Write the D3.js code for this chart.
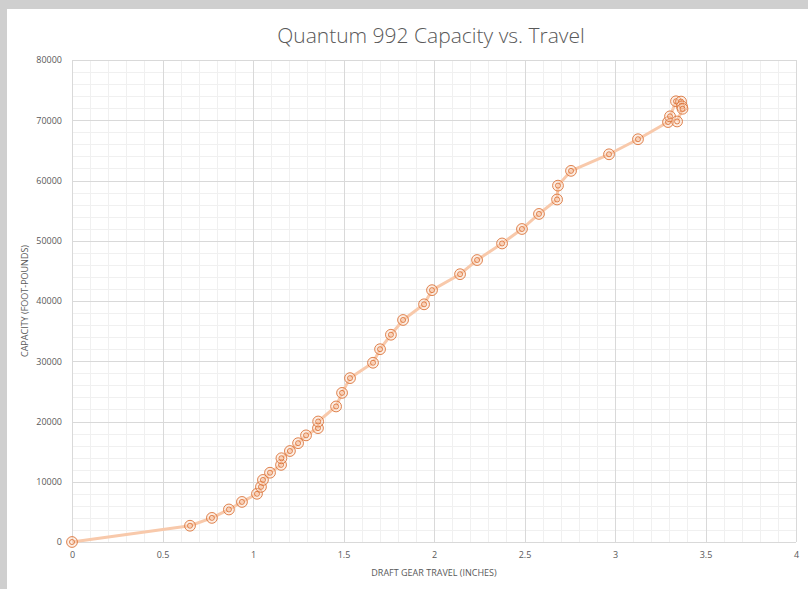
<!DOCTYPE html>
<html>
<head>
<meta charset="utf-8">
<script src="https://cdn.jsdelivr.net/npm/d3@7"></script>
<style>
  body { margin: 0; background: #cfcfcf; }
  #chart { position: absolute; left: 7px; top: 9px; }
  text { font-family: "Open Sans", "Liberation Sans", sans-serif; fill: #595959; }
</style>
</head>
<body>
<div id="chart"></div>
<script>
// data
var travel = [0, 0.652, 0.773, 0.867, 0.939, 1.022, 1.044, 1.055, 1.094, 1.155, 1.157, 1.204, 1.249,
  1.293, 1.359, 1.36, 1.459, 1.492, 1.536, 1.663, 1.702, 1.762, 1.829, 1.945, 1.989, 2.144, 2.238,
  2.376, 2.486, 2.58, 2.68, 2.685, 2.757, 2.967, 3.127, 3.293, 3.304, 3.337, 3.365, 3.37, 3.373, 3.343];
var capacity = [0, 2700, 4000, 5400, 6650, 8000, 9150, 10300, 11500, 12800, 13900, 15100, 16400,
  17700, 18900, 20000, 22500, 24750, 27200, 29750, 32000, 34400, 36850, 39450, 41800, 44450, 46800,
  49550, 51950, 54450, 56850, 59150, 61600, 64350, 66850, 69700, 70650, 73150, 73100, 72300, 71900, 69800];
var xTicks = [0, 0.5, 1, 1.5, 2, 2.5, 3, 3.5, 4];
var yTicks = [0, 10000, 20000, 30000, 40000, 50000, 60000, 70000, 80000];

var data = travel.map(function(t, i) { return {x: t, y: capacity[i]}; });

var W = 801, H = 580;
var margin = {top: 51, right: 5, bottom: 47, left: 65},
    width = 796 - 72,
    height = 542 - 60;

var root = d3.select("#chart").append("svg")
    .attr("width", W).attr("height", H)
    .style("background", "#fff");

var svg = root.append("g")
    .attr("transform", "translate(" + margin.left + "," + margin.top + ")");

var x = d3.scaleLinear().domain([0, 4]).range([0, width]);
var y = d3.scaleLinear().domain([0, 80000]).range([height, 0]);

// minor grid
svg.append("g").selectAll("line").data(d3.range(0, 4.0001, 0.1))
  .enter().append("line")
    .attr("x1", function(d) { return Math.round(x(d)) + 0.5; })
    .attr("x2", function(d) { return Math.round(x(d)) + 0.5; })
    .attr("y1", 0).attr("y2", height)
    .attr("stroke", "#f0f0f0");
svg.append("g").selectAll("line").data(d3.range(0, 80001, 2000))
  .enter().append("line")
    .attr("y1", function(d) { return Math.round(y(d)) + 0.5; })
    .attr("y2", function(d) { return Math.round(y(d)) + 0.5; })
    .attr("x1", 0).attr("x2", width)
    .attr("stroke", "#f0f0f0");

// major grid
svg.append("g").selectAll("line").data(xTicks)
  .enter().append("line")
    .attr("x1", function(d) { return Math.round(x(d)) + 0.5; })
    .attr("x2", function(d) { return Math.round(x(d)) + 0.5; })
    .attr("y1", 0).attr("y2", height)
    .attr("stroke", "#d9d9d9");
svg.append("g").selectAll("line").data(yTicks)
  .enter().append("line")
    .attr("y1", function(d) { return Math.round(y(d)) + 0.5; })
    .attr("y2", function(d) { return Math.round(y(d)) + 0.5; })
    .attr("x1", 0).attr("x2", width)
    .attr("stroke", "#d9d9d9");

// axes labels via d3 axes, domain hidden
var xAxis = svg.append("g")
    .attr("transform", "translate(0," + height + ")")
    .call(d3.axisBottom(x).tickValues(xTicks).tickSize(0).tickPadding(10).tickFormat(d3.format("")));
var yAxis = svg.append("g")
    .call(d3.axisLeft(y).tickValues(yTicks).tickSize(0).tickPadding(10).tickFormat(d3.format("d")));
[xAxis, yAxis].forEach(function(a) {
  a.select(".domain").remove();
  a.selectAll("text").style("font-size", "9px").attr("fill", "#595959")
    .style("font-family", "'Open Sans', sans-serif");
});

// line
svg.append("path")
    .datum(data)
    .attr("d", d3.line().x(function(d) { return x(d.x); }).y(function(d) { return y(d.y); }))
    .attr("fill", "none")
    .attr("stroke", "#f8c9ab")
    .attr("stroke-width", 3)
    .attr("stroke-linejoin", "round");

// markers: double ring
var m = svg.append("g").selectAll("g").data(data).enter().append("g")
    .attr("transform", function(d) { return "translate(" + x(d.x) + "," + y(d.y) + ")"; });
m.append("circle").attr("r", 5.4)
    .attr("fill", "#fbd9c4").attr("fill-opacity", 0.45)
    .attr("stroke", "#d96f32").attr("stroke-width", 1).attr("stroke-opacity", 0.85);
m.append("circle").attr("r", 2.5)
    .attr("fill", "none")
    .attr("stroke", "#d96f32").attr("stroke-width", 1).attr("stroke-opacity", 0.85);

// title
root.append("text")
    .attr("x", 424).attr("y", 34)
    .attr("text-anchor", "middle")
    .style("font-size", "21px").style("font-weight", 300)
    .text("Quantum 992 Capacity vs. Travel");

root.append("text")
    .attr("x", margin.left + width / 2).attr("y", 567)
    .attr("text-anchor", "middle")
    .style("font-size", "9px")
    .text("DRAFT GEAR TRAVEL (INCHES)");

root.append("text")
    .attr("transform", "translate(21," + (margin.top + height / 2) + ") rotate(-90)")
    .attr("text-anchor", "middle")
    .style("font-size", "9px")
    .text("CAPACITY (FOOT-POUNDS)");
</script>
</body>
</html>
